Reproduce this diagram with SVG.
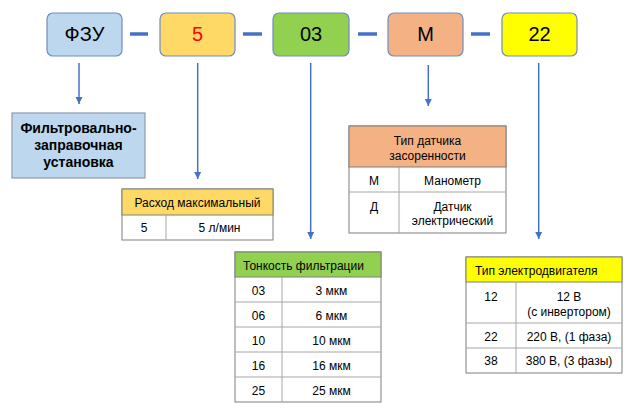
<svg xmlns="http://www.w3.org/2000/svg" width="640" height="408" viewBox="0 0 640 408">
<style>
text{font-family:"Liberation Sans",Arial,sans-serif;fill:#000}
.top{font-size:20px;text-anchor:middle}
.t{font-size:12px;text-anchor:middle}
.tl{font-size:12px;text-anchor:start}
.b{font-size:14px;font-weight:bold;text-anchor:middle}
.box{stroke:#6F8DBF;stroke-width:1.2}
.dash{stroke:#4472C4;stroke-width:3.5}
.arr{stroke:#4472C4;stroke-width:1.5;fill:none}
.tb{fill:#fff;stroke:#7F7F7F;stroke-width:1}
.ln{stroke:#A6A6A6;stroke-width:1}
</style>
<defs>
<marker id="ah" markerUnits="userSpaceOnUse" markerWidth="8" markerHeight="8" viewBox="0 0 8 8" refX="7" refY="4" orient="auto">
<path d="M0,0.5 L7,4 L0,7.5 Z" fill="#4472C4"/>
</marker>
</defs>
<rect width="640" height="408" fill="#fff"/>

<g id="code-fzu">
<rect class="box" x="47" y="13" width="75" height="43" rx="6" fill="#BDD7EE"/>
<text class="top" x="84.5" y="41">ФЗУ</text>
</g>
<g id="code-5">
<rect class="box" x="160" y="13" width="75" height="43" rx="6" fill="#FFD966"/>
<text class="top" x="197.5" y="41" style="fill:#FF0000">5</text>
</g>
<g id="code-03">
<rect class="box" x="273" y="13" width="76" height="43" rx="6" fill="#92D050"/>
<text class="top" x="311" y="41">03</text>
</g>
<g id="code-m">
<rect class="box" x="388" y="13" width="75" height="43" rx="6" fill="#F4B183"/>
<text class="top" x="425.5" y="41">М</text>
</g>
<g id="code-22">
<rect class="box" x="502" y="13" width="75" height="43" rx="6" fill="#FFFF00"/>
<text class="top" x="539.5" y="41">22</text>
</g>

<g id="connectors">
<line class="dash" x1="130" y1="34" x2="148" y2="34"/>
<line class="dash" x1="243" y1="34" x2="262" y2="34"/>
<line class="dash" x1="358" y1="34" x2="377" y2="34"/>
<line class="dash" x1="471" y1="34" x2="490" y2="34"/>
<line class="arr" x1="79" y1="63" x2="79" y2="104" marker-end="url(#ah)"/>
<line class="arr" x1="197.7" y1="63" x2="197.7" y2="179" marker-end="url(#ah)"/>
<line class="arr" x1="310.7" y1="63" x2="310.7" y2="239" marker-end="url(#ah)"/>
<line class="arr" x1="428.3" y1="65" x2="428.3" y2="106" marker-end="url(#ah)"/>
<line class="arr" x1="538.7" y1="63" x2="538.7" y2="239" marker-end="url(#ah)"/>
</g>

<g id="desc-fzu">
<rect x="12" y="113" width="133" height="65" fill="#BDD7EE" stroke="#8C9BAE" stroke-width="1.2"/>
<text class="b" x="78.5" y="133">Фильтровально-</text>
<text class="b" x="78.5" y="150">заправочная</text>
<text class="b" x="78.5" y="167">установка</text>
</g>

<g id="table-flow">
<rect class="tb" x="122" y="189" width="151" height="51"/>
<rect x="122" y="189" width="151" height="26" fill="#FFD966" stroke="#7F7F7F" stroke-width="1"/>
<line class="ln" x1="166" y1="215" x2="166" y2="240"/>
<text class="t" x="197.5" y="207">Расход максимальный</text>
<text class="t" x="144" y="232">5</text>
<text class="t" x="219.5" y="232">5 л/мин</text>
</g>

<g id="table-sensor">
<rect class="tb" x="349" y="126" width="157" height="107"/>
<rect x="349" y="126" width="157" height="41" fill="#F4B183" stroke="#7F7F7F" stroke-width="1"/>
<line class="ln" x1="349" y1="192" x2="506" y2="192"/>
<line class="ln" x1="399" y1="167" x2="399" y2="233"/>
<text class="t" x="427.5" y="144.5">Тип датчика</text>
<text class="t" x="427.5" y="159.5">засоренности</text>
<text class="t" x="374" y="184.5">М</text>
<text class="t" x="452.5" y="184.5">Манометр</text>
<text class="t" x="374" y="211">Д</text>
<text class="t" x="452.5" y="211">Датчик</text>
<text class="t" x="452.5" y="224.5">электрический</text>
</g>

<g id="table-filter">
<rect class="tb" x="235" y="252" width="146" height="150"/>
<rect x="235" y="252" width="146" height="25" fill="#92D050" stroke="#7F7F7F" stroke-width="1"/>
<line class="ln" x1="235" y1="302" x2="381" y2="302"/>
<line class="ln" x1="235" y1="327" x2="381" y2="327"/>
<line class="ln" x1="235" y1="352" x2="381" y2="352"/>
<line class="ln" x1="235" y1="377" x2="381" y2="377"/>
<line class="ln" x1="282" y1="277" x2="282" y2="402"/>
<text class="tl" x="243" y="269.5">Тонкость фильтрации</text>
<text class="t" x="258.5" y="295">03</text>
<text class="t" x="331.5" y="295">3 мкм</text>
<text class="t" x="258.5" y="320">06</text>
<text class="t" x="331.5" y="320">6 мкм</text>
<text class="t" x="258.5" y="345">10</text>
<text class="t" x="331.5" y="345">10 мкм</text>
<text class="t" x="258.5" y="370">16</text>
<text class="t" x="331.5" y="370">16 мкм</text>
<text class="t" x="258.5" y="395">25</text>
<text class="t" x="331.5" y="395">25 мкм</text>
</g>

<g id="table-motor">
<rect class="tb" x="466" y="257" width="156" height="116"/>
<rect x="466" y="257" width="156" height="25" fill="#FFFF00" stroke="#7F7F7F" stroke-width="1"/>
<line class="ln" x1="466" y1="323" x2="622" y2="323"/>
<line class="ln" x1="466" y1="348" x2="622" y2="348"/>
<line class="ln" x1="516" y1="282" x2="516" y2="373"/>
<text class="tl" x="475" y="274.5">Тип электродвигателя</text>
<text class="t" x="491" y="300.5">12</text>
<text class="t" x="569" y="300.5">12 В</text>
<text class="t" x="569" y="315.5">(с инвертором)</text>
<text class="t" x="491" y="341">22</text>
<text class="t" x="569" y="341">220 В, (1 фаза)</text>
<text class="t" x="491" y="365">38</text>
<text class="t" x="569" y="365">380 В, (3 фазы)</text>
</g>
</svg>
